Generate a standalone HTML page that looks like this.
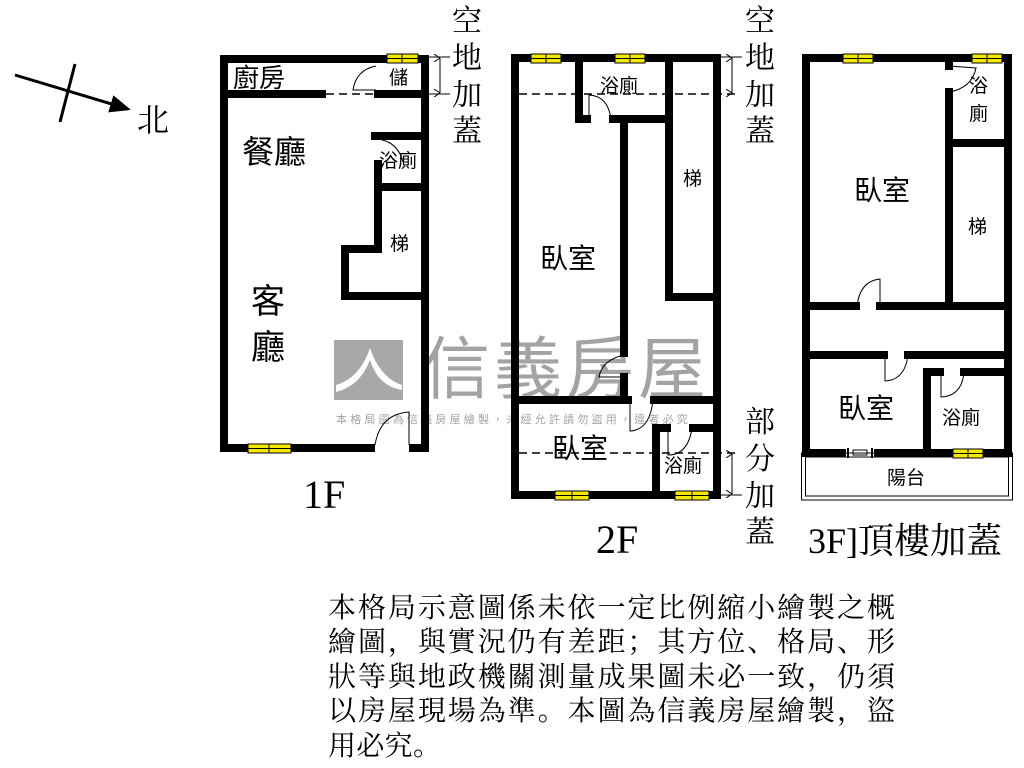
<!DOCTYPE html>
<html><head><meta charset="utf-8"><style>
html,body{margin:0;padding:0;background:#fff;width:1024px;height:768px;overflow:hidden}
svg{display:block}
.t{font-family:"Liberation Serif","Noto Serif CJK SC",serif;fill:#000}
.s{font-family:"Liberation Sans","Noto Sans CJK TC",sans-serif;fill:#000}
</style></head><body>
<svg width="1024" height="768" viewBox="0 0 1024 768" xmlns="http://www.w3.org/2000/svg">
<defs>
<marker id="ah" markerWidth="7" markerHeight="7" refX="6" refY="3.5" orient="auto" markerUnits="strokeWidth"><path d="M0,0.5 L7,3.5 L0,6.5 z" fill="#000"/></marker>
<marker id="da" markerWidth="8" markerHeight="8" refX="4" refY="0" orient="auto"><path d="M0,6 L4,0 L8,6" fill="none" stroke="#000" stroke-width="1"/></marker>
</defs>
<rect x="334" y="340" width="69" height="60" fill="#a8a8a8"/>
<path d="M336,385 Q360,378 370,348 Q380,378 402,385 L402,390 Q378,386 370,360 Q360,386 336,392z" fill="#fff"/>
<text x="422" y="393" font-size="68" fill="#a3a3a3" style="font-family:'Noto Sans CJK TC',sans-serif" letter-spacing="4">信義房屋</text>
<text x="336" y="423" font-size="11" fill="#a3a3a3" style="font-family:'Noto Sans CJK TC',sans-serif" letter-spacing="3.2">本格局圖為信義房屋繪製，未經允許請勿盜用，違者必究</text>

<line x1="15" y1="75" x2="128" y2="109" stroke="#000" stroke-width="3" marker-end="url(#ah)"/>
<line x1="75" y1="64" x2="60" y2="122" stroke="#000" stroke-width="3"/>
<text class="t" x="137" y="131" font-size="32">北</text>

<g stroke="#000" fill="none" stroke-width="8" stroke-linecap="square">
<rect x="224" y="59" width="201" height="389"/>
<line x1="224" y1="94" x2="322" y2="94"/>
<line x1="378" y1="94" x2="425" y2="94"/>
<line x1="375" y1="136" x2="425" y2="136"/>
<line x1="378" y1="164" x2="378" y2="249"/>
<line x1="378" y1="187" x2="425" y2="187"/>
<line x1="345" y1="249" x2="378" y2="249"/>
<line x1="345" y1="249" x2="345" y2="296"/>
<line x1="345" y1="296" x2="425" y2="296"/>
<rect x="515" y="58" width="202" height="437"/>
<line x1="579" y1="58" x2="579" y2="119"/>
<line x1="579" y1="119" x2="587" y2="119"/>
<line x1="613" y1="119" x2="669" y2="119"/>
<line x1="669" y1="58" x2="669" y2="297"/>
<line x1="669" y1="297" x2="717" y2="297"/>
<line x1="624" y1="119" x2="624" y2="353"/>
<line x1="624" y1="377" x2="624" y2="400"/>
<line x1="515" y1="400" x2="628" y2="400"/>
<line x1="654" y1="400" x2="717" y2="400"/>
<line x1="656" y1="428" x2="656" y2="495"/>
<line x1="656" y1="428" x2="667" y2="428"/>
<line x1="693" y1="428" x2="717" y2="428"/>
<rect x="806" y="58" width="202" height="395"/>
<line x1="949" y1="58" x2="949" y2="66"/>
<line x1="949" y1="92" x2="949" y2="306"/>
<line x1="949" y1="143" x2="1008" y2="143"/>
<line x1="806" y1="306" x2="856" y2="306"/>
<line x1="880" y1="306" x2="1008" y2="306"/>
<line x1="806" y1="355" x2="884" y2="355"/>
<line x1="908" y1="355" x2="1008" y2="355"/>
<line x1="927" y1="372" x2="927" y2="453"/>
<line x1="927" y1="372" x2="940" y2="372"/>
<line x1="964" y1="372" x2="1008" y2="372"/>
</g>
<g fill="#fff">
<rect x="375" y="443" width="34" height="10"/>
<rect x="846" y="448" width="28" height="10"/>
</g>
<line x1="848" y1="453" x2="872" y2="453" stroke="#000" stroke-width="1"/>
<rect x="853" y="450" width="14" height="5" fill="none" stroke="#000" stroke-width="1"/>
<line x1="848" y1="448" x2="848" y2="458" stroke="#000" stroke-width="2"/>
<line x1="872" y1="448" x2="872" y2="458" stroke="#000" stroke-width="2"/>
<rect x="801.5" y="453" width="211" height="47" fill="none" stroke="#000" stroke-width="1"/>
<rect x="805.5" y="457" width="203" height="39" fill="none" stroke="#000" stroke-width="1"/>

<g stroke="#000" stroke-width="1.5" stroke-dasharray="8,5" fill="none">
<line x1="326" y1="94" x2="376" y2="94"/>
<line x1="519" y1="94" x2="740" y2="94"/>
<line x1="519" y1="453" x2="740" y2="453"/>
</g>
<g stroke="#000" stroke-width="1" fill="none">
<line x1="428" y1="57" x2="450" y2="57"/><line x1="428" y1="94" x2="450" y2="94"/>
<line x1="440" y1="58" x2="440" y2="93" marker-start="url(#da)" marker-end="url(#da)"/>
<line x1="720" y1="57" x2="742" y2="57"/>
<line x1="732" y1="58" x2="732" y2="93" marker-start="url(#da)" marker-end="url(#da)"/>
<line x1="720" y1="495" x2="742" y2="495"/>
<line x1="732" y1="454" x2="732" y2="494" marker-start="url(#da)" marker-end="url(#da)"/>
<path d="M376,66 Q356,70 353,90 L376,90"/>
<path d="M378,139 Q398,142 403,162"/>
<path d="M375,445 Q380,414 409,412 L409,445"/>
<path d="M589,119 L589,95 Q608,96 611,119"/>
<path d="M624,355 Q602,360 599,377 L624,377"/>
<path d="M630,400 L630,431 Q650,430 653,400"/>
<path d="M668,428 L668,455 Q688,455 692,428"/>
<path d="M949,66 L976,68 Q972,88 949,92"/>
<path d="M857,306 Q860,281 880,279 L880,306"/>
<path d="M885,355 L885,381 Q905,380 908,355"/>
<path d="M941,372 L941,397 Q962,396 964,372"/>
</g>
<g fill="#f2e800" stroke="#000" stroke-width="1">
<rect x="387" y="54" width="31" height="9"/><rect x="248" y="444" width="43" height="9"/>
<rect x="531" y="54" width="30" height="9"/><rect x="615" y="54" width="30" height="9"/>
<rect x="555" y="491" width="34" height="9"/><rect x="675" y="491" width="34" height="9"/>
<rect x="843" y="54" width="30" height="9"/><rect x="972" y="54" width="30" height="9"/>
<rect x="953" y="449" width="30" height="9"/>
</g>
<g stroke="#000" stroke-width="1">
<line x1="387" y1="58.5" x2="418" y2="58.5"/><line x1="402" y1="54" x2="402" y2="63"/>
<line x1="248" y1="448.5" x2="291" y2="448.5"/><line x1="269" y1="444" x2="269" y2="453"/>
<line x1="531" y1="58.5" x2="561" y2="58.5"/><line x1="546" y1="54" x2="546" y2="63"/>
<line x1="615" y1="58.5" x2="645" y2="58.5"/><line x1="630" y1="54" x2="630" y2="63"/>
<line x1="555" y1="495.5" x2="589" y2="495.5"/><line x1="572" y1="491" x2="572" y2="500"/>
<line x1="675" y1="495.5" x2="709" y2="495.5"/><line x1="692" y1="491" x2="692" y2="500"/>
<line x1="843" y1="58.5" x2="873" y2="58.5"/><line x1="858" y1="54" x2="858" y2="63"/>
<line x1="972" y1="58.5" x2="1002" y2="58.5"/><line x1="987" y1="54" x2="987" y2="63"/>
<line x1="953" y1="453.5" x2="983" y2="453.5"/><line x1="968" y1="449" x2="968" y2="458"/>
</g>

<g class="s">
<text x="233" y="87" font-size="26">廚房</text>
<text x="389" y="84" font-size="19">儲</text>
<text x="242" y="163" font-size="32">餐廳</text>
<text x="379" y="167" font-size="19">浴廁</text>
<text x="390" y="250" font-size="19">梯</text>
<text x="251" y="313" font-size="34">客</text>
<text x="251" y="359" font-size="34">廳</text>
<text x="600" y="92" font-size="19">浴廁</text>
<text x="683" y="185" font-size="19">梯</text>
<text x="540" y="268" font-size="28">臥室</text>
<text x="552" y="458" font-size="28">臥室</text>
<text x="664" y="472" font-size="19">浴廁</text>
<text x="969" y="92" font-size="19">浴</text>
<text x="969" y="120" font-size="19">廁</text>
<text x="854" y="200" font-size="28">臥室</text>
<text x="968" y="233" font-size="19">梯</text>
<text x="838" y="418" font-size="28">臥室</text>
<text x="942" y="424" font-size="19">浴廁</text>
<text x="887" y="484" font-size="19">陽台</text>
</g>
<g class="t" font-size="30">
<text x="452" y="31">空</text><text x="452" y="68">地</text><text x="452" y="105">加</text><text x="452" y="141">蓋</text>
<text x="745" y="31">空</text><text x="745" y="68">地</text><text x="745" y="105">加</text><text x="745" y="141">蓋</text>
<text x="745" y="432">部</text><text x="745" y="469">分</text><text x="745" y="506">加</text><text x="745" y="542">蓋</text>
</g>
<text class="t" x="303" y="508" font-size="40">1F</text>
<text class="t" x="596" y="553" font-size="40">2F</text>
<text class="t" x="808" y="553" font-size="36">3F]頂樓加蓋</text>
<g class="t" font-size="28">
<text x="328" y="617" textLength="567" lengthAdjust="spacing">本格局示意圖係未依一定比例縮小繪製之概</text>
<text x="328" y="651" textLength="567" lengthAdjust="spacing">繪圖，與實況仍有差距；其方位、格局、形</text>
<text x="328" y="686" textLength="567" lengthAdjust="spacing">狀等與地政機關測量成果圖未必一致，仍須</text>
<text x="328" y="720" textLength="567" lengthAdjust="spacing">以房屋現場為準。本圖為信義房屋繪製，盜</text>
<text x="328" y="755" textLength="113" lengthAdjust="spacing">用必究。</text>
</g>
</svg>
</body></html>
